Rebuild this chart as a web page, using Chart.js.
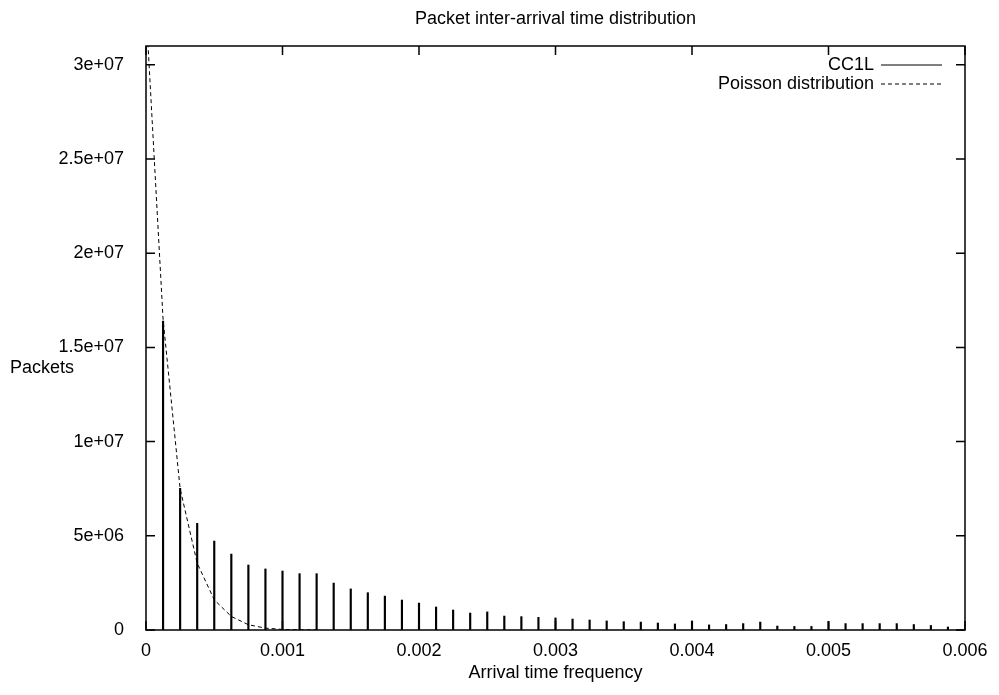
<!DOCTYPE html>
<html><head><meta charset="utf-8">
<script src="https://cdn.jsdelivr.net/npm/chart.js@4/dist/chart.umd.min.js"></script>
<style>html,body{margin:0;padding:0;background:#fff}#wrap{width:999px;height:695px}</style>
</head><body><div id="wrap"><canvas id="c" width="999" height="695"></canvas></div>
<script>
const titleText = 'Packet inter-arrival time distribution';
const xLabel = 'Arrival time frequency';
const yLabel = 'Packets';
const seriesNames = ['CC1L', 'Poisson distribution'];

const binTimes = [0.000125, 0.00025, 0.000375, 0.0005, 0.000625, 0.00075, 0.000875, 0.001,
  0.001125, 0.00125, 0.001375, 0.0015, 0.001625, 0.00175, 0.001875, 0.002,
  0.002125, 0.00225, 0.002375, 0.0025, 0.002625, 0.00275, 0.002875, 0.003,
  0.003125, 0.00325, 0.003375, 0.0035, 0.003625, 0.00375, 0.003875, 0.004,
  0.004125, 0.00425, 0.004375, 0.0045, 0.004625, 0.00475, 0.004875, 0.005,
  0.005125, 0.00525, 0.005375, 0.0055, 0.005625, 0.00575, 0.005875];
const cc1lPackets = [16.4e6, 7.52e6, 5.66e6, 4.72e6, 4.03e6, 3.45e6, 3.24e6, 3.13e6,
  2.99e6, 2.99e6, 2.49e6, 2.18e6, 1.98e6, 1.80e6, 1.59e6, 1.43e6,
  1.22e6, 1.06e6, 0.90e6, 0.96e6, 0.74e6, 0.71e6, 0.67e6, 0.64e6,
  0.58e6, 0.53e6, 0.48e6, 0.44e6, 0.42e6, 0.37e6, 0.32e6, 0.48e6,
  0.27e6, 0.29e6, 0.34e6, 0.42e6, 0.21e6, 0.19e6, 0.19e6, 0.45e6,
  0.34e6, 0.34e6, 0.34e6, 0.34e6, 0.29e6, 0.24e6, 0.16e6];

const poissonTimes = [0, 0.000125, 0.00025, 0.000375, 0.0005, 0.000625, 0.00075, 0.000875, 0.001, 0.001125, 0.00125];
const poissonPackets = [33e6, 16.5e6, 7.5e6, 3.55e6, 1.6e6, 0.72e6, 0.28e6, 0.1e6, 0.03e6, 0.01e6, 0.003e6];

const xTickValues = [0, 0.001, 0.002, 0.003, 0.004, 0.005, 0.006];
const xTickLabels = ['0', '0.001', '0.002', '0.003', '0.004', '0.005', '0.006'];
const yTickValues = [0, 5e6, 1e7, 1.5e7, 2e7, 2.5e7, 3e7];
const yTickLabels = ['0', '5e+06', '1e+07', '1.5e+07', '2e+07', '2.5e+07', '3e+07'];

const FONT = '"Liberation Sans", Arial, Helvetica, sans-serif';

const deco = {
  id: 'deco',
  afterDraw(chart) {
    const {ctx, chartArea: a, scales: {x, y}} = chart;
    ctx.save();
    ctx.strokeStyle = '#000';
    ctx.lineWidth = 1.5;
    ctx.setLineDash([]);
    ctx.strokeRect(a.left, a.top, a.right - a.left, a.bottom - a.top);
    const tl = 9;
    ctx.beginPath();
    y.ticks.forEach(t => {
      const p = y.getPixelForValue(t.value);
      ctx.moveTo(a.left, p); ctx.lineTo(a.left + tl, p);
      ctx.moveTo(a.right, p); ctx.lineTo(a.right - tl, p);
    });
    x.ticks.forEach(t => {
      const p = x.getPixelForValue(t.value);
      ctx.moveTo(p, a.bottom); ctx.lineTo(p, a.bottom - tl);
      ctx.moveTo(p, a.top); ctx.lineTo(p, a.top + tl);
    });
    ctx.stroke();

    ctx.fillStyle = '#000';
    ctx.font = '18px ' + FONT;
    ctx.textBaseline = 'middle';
    ctx.textAlign = 'center';
    ctx.fillText(titleText, (a.left + a.right) / 2, 19);
    ctx.fillText(xLabel, (a.left + a.right) / 2, 673);
    ctx.textAlign = 'left';
    ctx.fillText(yLabel, 10, 368);

    // legend
    ctx.textAlign = 'right';
    const lx = 874, l1 = 881, l2 = 942;
    ctx.fillText(seriesNames[0], lx, 65);
    ctx.fillText(seriesNames[1], lx, 84);
    ctx.lineWidth = 1.2;
    ctx.beginPath(); ctx.moveTo(l1, 65); ctx.lineTo(l2, 65); ctx.stroke();
    ctx.setLineDash([4, 3]);
    ctx.lineWidth = 1;
    ctx.beginPath(); ctx.moveTo(l1, 84); ctx.lineTo(l2, 84); ctx.stroke();
    ctx.restore();
  }
};

new Chart(document.getElementById('c'), {
  type: 'bar',
  data: {
    datasets: [
      {
        type: 'bar',
        label: seriesNames[0],
        data: binTimes.map((t, i) => ({x: t, y: cc1lPackets[i]})),
        backgroundColor: '#000',
        borderWidth: 0,
        barThickness: 1.5
      },
      {
        type: 'line',
        label: seriesNames[1],
        data: poissonTimes.map((t, i) => ({x: t, y: poissonPackets[i]})),
        borderColor: '#000',
        borderWidth: 1,
        borderDash: [4, 3],
        pointRadius: 0,
        tension: 0,
        fill: false
      }
    ]
  },
  options: {
    responsive: false,
    animation: false,
    devicePixelRatio: 1,
    layout: {padding: {left: 0, right: 34, top: 46, bottom: 0}},
    plugins: {legend: {display: false}, title: {display: false}, tooltip: {enabled: false}},
    scales: {
      x: {
        type: 'linear', min: 0, max: 0.006, offset: false,
        grid: {display: false}, border: {display: false},
        afterBuildTicks: s => { s.ticks = xTickValues.map(v => ({value: v})); },
        afterFit: s => { s.height = 65; },
        ticks: {
          autoSkip: false, maxRotation: 0, padding: 2, color: '#000',
          font: {family: FONT, size: 18},
          callback: (v, i) => xTickLabels[i]
        }
      },
      y: {
        type: 'linear', min: 0, max: 31e6,
        grid: {display: false}, border: {display: false},
        afterBuildTicks: s => { s.ticks = yTickValues.map(v => ({value: v})); },
        afterFit: s => { s.width = 146; },
        ticks: {
          autoSkip: false, padding: 14, color: '#000',
          font: {family: FONT, size: 18},
          callback: (v, i) => yTickLabels[i]
        }
      }
    }
  },
  plugins: [deco]
});
</script>
</body></html>
